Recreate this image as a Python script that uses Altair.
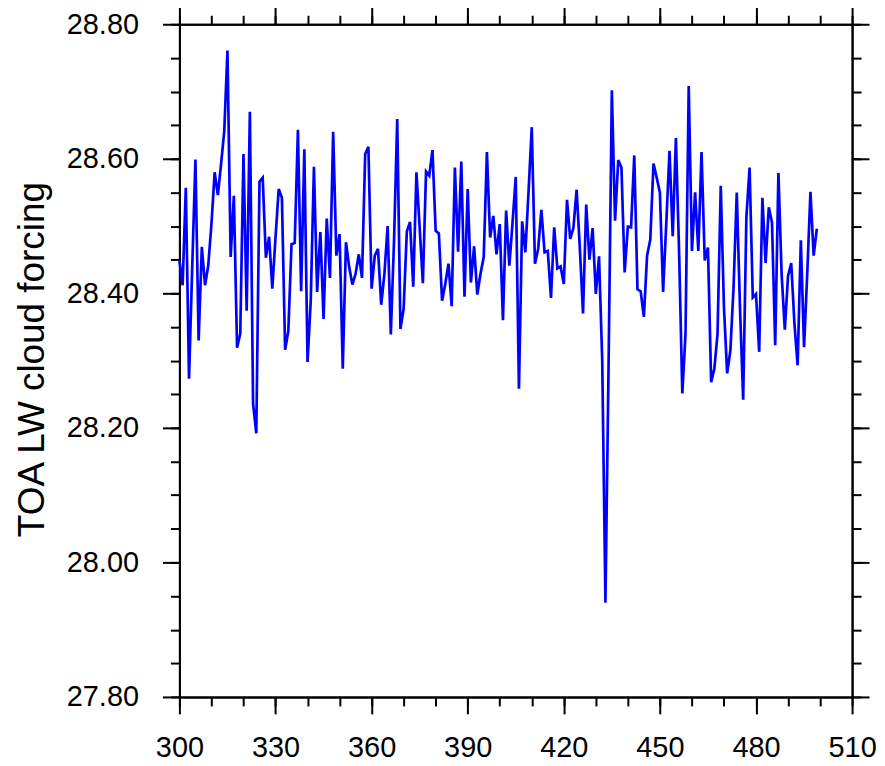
import altair as alt
import pandas as pd

years = list(range(300, 500))
values = [
    28.449, 28.412, 28.557, 28.273, 28.439, 28.599, 28.330, 28.469, 28.412, 28.441,
    28.503, 28.580, 28.546, 28.592, 28.641, 28.761, 28.454, 28.545, 28.319, 28.340,
    28.607, 28.374, 28.670, 28.236, 28.192, 28.566, 28.572, 28.453, 28.484, 28.407,
    28.483, 28.555, 28.542, 28.316, 28.344, 28.473, 28.475, 28.643, 28.403, 28.614,
    28.298, 28.389, 28.588, 28.402, 28.491, 28.362, 28.511, 28.423, 28.640, 28.456,
    28.488, 28.288, 28.476, 28.439, 28.413, 28.429, 28.458, 28.423, 28.607, 28.618,
    28.407, 28.456, 28.466, 28.383, 28.429, 28.500, 28.339, 28.478, 28.659, 28.347,
    28.377, 28.492, 28.506, 28.410, 28.580, 28.498, 28.415, 28.581, 28.575, 28.613,
    28.493, 28.489, 28.389, 28.414, 28.444, 28.381, 28.587, 28.462, 28.596, 28.395,
    28.555, 28.416, 28.470, 28.398, 28.429, 28.454, 28.610, 28.483, 28.515, 28.458,
    28.503, 28.360, 28.523, 28.441, 28.505, 28.573, 28.258, 28.507, 28.461, 28.552,
    28.647, 28.444, 28.466, 28.524, 28.461, 28.463, 28.393, 28.498, 28.437, 28.440,
    28.414, 28.539, 28.481, 28.497, 28.554, 28.468, 28.370, 28.532, 28.450, 28.497,
    28.399, 28.455, 28.300, 27.940, 28.300, 28.702, 28.508, 28.598, 28.587, 28.431,
    28.499, 28.498, 28.605, 28.406, 28.403, 28.365, 28.456, 28.480, 28.593, 28.572,
    28.550, 28.402, 28.505, 28.612, 28.485, 28.631, 28.460, 28.251, 28.340, 28.708,
    28.463, 28.550, 28.463, 28.610, 28.449, 28.468, 28.268, 28.288, 28.340, 28.560,
    28.379, 28.281, 28.315, 28.409, 28.550, 28.379, 28.242, 28.513, 28.587, 28.394,
    28.399, 28.313, 28.542, 28.445, 28.528, 28.505, 28.323, 28.579, 28.429, 28.346,
    28.426, 28.445, 28.355, 28.293, 28.479, 28.320, 28.429, 28.551, 28.456, 28.496,
]

x_major = [300, 330, 360, 390, 420, 450, 480, 510]
x_minor = [300, 310, 320, 330, 340, 350, 360, 370, 380, 390, 400,
           410, 420, 430, 440, 450, 460, 470, 480, 490, 500, 510]
y_major = [27.8, 28.0, 28.2, 28.4, 28.6, 28.8]
y_minor = [27.8, 27.85, 27.9, 27.95, 28.0, 28.05, 28.1, 28.15, 28.2, 28.25,
           28.3, 28.35, 28.4, 28.45, 28.5, 28.55, 28.6, 28.65, 28.7, 28.75, 28.8]

y_title = "TOA LW cloud forcing"

df = pd.DataFrame({"year": years, "value": values})

FONT = "Liberation Sans"
LINE_W = 2.7
xs = alt.Scale(domain=[300, 510], nice=False, zero=False)
ys = alt.Scale(domain=[27.8, 28.8], nice=False, zero=False)

base_axis = dict(domainColor="black", domainWidth=2, tickColor="black",
                 tickWidth=2, grid=False)

MAJOR = 17
MINOR = 9


def layer(xaxis, yaxis):
    mark = alt.Chart(df).mark_line(color="#0000ff", strokeWidth=LINE_W, opacity=0)
    return mark.encode(
        x=alt.X("year:Q", scale=xs, axis=xaxis, title=None),
        y=alt.Y("value:Q", scale=ys, axis=yaxis, title=None),
    )


# minor ticks (bottom/left)
l_minor_bl = layer(
    alt.Axis(orient="bottom", values=x_minor, tickSize=MINOR, labels=False, **base_axis),
    alt.Axis(orient="left", values=y_minor, tickSize=MINOR, labels=False, **base_axis),
)
# top/right major
l_major_tr = layer(
    alt.Axis(orient="top", values=x_major, tickSize=MAJOR, labels=False, **base_axis),
    alt.Axis(orient="right", values=y_major, tickSize=MAJOR, labels=False, **base_axis),
)
# top/right minor
l_minor_tr = layer(
    alt.Axis(orient="top", values=x_minor, tickSize=MINOR, labels=False, **base_axis),
    alt.Axis(orient="right", values=y_minor, tickSize=MINOR, labels=False, **base_axis),
)

main = alt.Chart(df).mark_line(color="#0000ff", strokeWidth=LINE_W).encode(
    x=alt.X("year:Q", scale=xs, title=None,
            axis=alt.Axis(orient="bottom", values=x_major, tickSize=MAJOR, format="d",
                          labelFont=FONT, labelFontSize=29, labelColor="black",
                          labelPadding=20, labelFlush=False, labelOverlap=False,
                          **base_axis)),
    y=alt.Y("value:Q", scale=ys,
            axis=alt.Axis(orient="left", values=y_major, tickSize=MAJOR, format=".2f",
                          labelFont=FONT, labelFontSize=29, labelColor="black",
                          labelPadding=24, labelFlush=False, labelOverlap=False,
                          title=y_title, titleFont=FONT, titleFontSize=37,
                          titleFontWeight="normal", titleColor="black",
                          titleAngle=270, titleAlign="center", titleBaseline="middle",
                          titleX=-147, titleY=336,
                          **base_axis)),
)

chart = alt.layer(l_minor_bl, l_major_tr, l_minor_tr, main).resolve_axis(
    x="independent", y="independent"
).properties(
    width=675, height=675, autosize="none",
    padding={"left": 172, "top": 15, "right": 25, "bottom": 68},
).configure_view(stroke=None)

chart.save("out.html", embed_options={"renderer": "svg", "actions": False})
